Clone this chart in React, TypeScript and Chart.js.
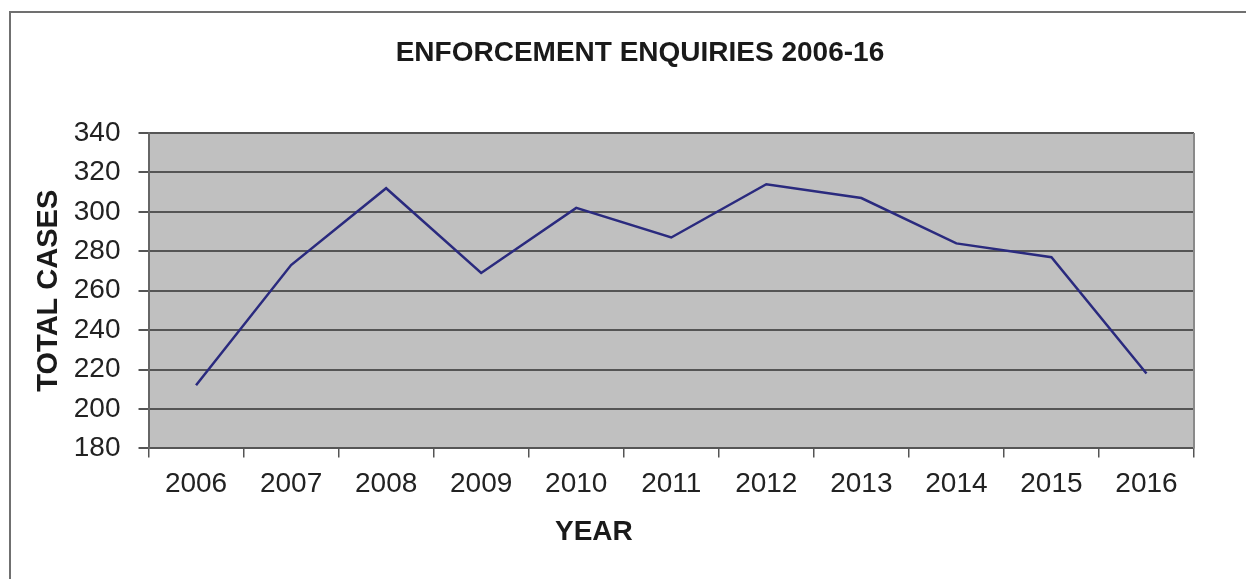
import React, { useEffect, useRef } from "react";
import { Chart, registerables } from "chart.js";

Chart.register(...registerables);

const years: string[] = ["2006", "2007", "2008", "2009", "2010", "2011", "2012", "2013", "2014", "2015", "2016"];
const totalCases: number[] = [212, 273, 312, 269, 302, 287, 314, 307, 284, 277, 218];
const chartTitle = "ENFORCEMENT ENQUIRIES 2006-16";
const xTitle = "YEAR";
const yTitle = "TOTAL CASES";
const yMin = 180;
const yMax = 340;
const yStep = 20;

const FONT = "'Liberation Sans', Arial, Helvetica, sans-serif";

const plotDecor = {
  id: "plotDecor",
  beforeDraw(chart: any) {
    const { ctx, chartArea } = chart;
    if (!chartArea) return;
    ctx.save();
    ctx.fillStyle = "#c0c0c0";
    ctx.fillRect(chartArea.left, chartArea.top, chartArea.right - chartArea.left, chartArea.bottom - chartArea.top);
    ctx.restore();
  },
  afterDatasetsDraw(chart: any) {
    const { ctx, chartArea } = chart;
    if (!chartArea) return;
    ctx.save();
    ctx.strokeStyle = "#8a8a8a";
    ctx.lineWidth = 2;
    ctx.beginPath();
    ctx.moveTo(chartArea.right, chartArea.top);
    ctx.lineTo(chartArea.right, chartArea.bottom);
    ctx.stroke();
    ctx.restore();
  },
  afterDraw(chart: any) {
    const { ctx, chartArea, width } = chart;
    if (!chartArea) return;
    ctx.save();
    ctx.font = `bold 28px ${FONT}`;
    ctx.fillStyle = "#1a1a1a";
    ctx.textAlign = "center";
    ctx.textBaseline = "middle";
    // main title
    ctx.fillText(chartTitle, width * 0.5136, 53);
    // x axis title
    const x = chartArea.left + 0.426 * (chartArea.right - chartArea.left);
    ctx.fillText(xTitle, x, 532);
    ctx.restore();
  },
};

export default function App() {
  const canvasRef = useRef<HTMLCanvasElement | null>(null);

  useEffect(() => {
    const canvas = canvasRef.current;
    if (!canvas) return;
    const chart = new Chart(canvas, {
      type: "line",
      data: {
        labels: years,
        datasets: [
          {
            label: yTitle,
            data: totalCases,
            borderColor: "#2a2a7e",
            borderWidth: 2.5,
            pointRadius: 0,
            tension: 0,
            fill: false,
          },
        ],
      },
      options: {
        responsive: false,
        animation: false,
        devicePixelRatio: 1,
        layout: { padding: { left: 0, right: 52, top: 133, bottom: 68 } },
        plugins: {
          legend: { display: false },
          tooltip: { enabled: false },
          title: { display: false },
        },
        scales: {
          x: {
            offset: true,
            grid: {
              display: true,
              drawOnChartArea: false,
              drawTicks: true,
              offset: true,
              tickLength: 9,
              color: "#555555",
              lineWidth: 1.5,
            },
            border: { display: true, color: "#555555", width: 2 },
            ticks: {
              color: "#222222",
              font: { family: FONT, size: 28 },
              padding: 10,
              maxRotation: 0,
              autoSkip: false,
            },
          },
          y: {
            min: yMin,
            max: yMax,
            grid: {
              display: true,
              drawOnChartArea: true,
              drawTicks: true,
              tickLength: 10,
              color: "#555555",
              lineWidth: 2,
            },
            border: { display: true, color: "#666666", width: 2 },
            ticks: {
              stepSize: yStep,
              color: "#222222",
              font: { family: FONT, size: 28 },
              padding: 18,
            },
            title: {
              display: true,
              text: yTitle,
              color: "#1a1a1a",
              font: { family: FONT, size: 29, weight: "bold" },
              padding: { top: 32, bottom: -11 },
            },
          },
        },
      },
      plugins: [plotDecor],
    });
    return () => chart.destroy();
  }, []);

  return (
    <div
      style={{
        position: "fixed",
        left: 0,
        top: 0,
        width: "1246px",
        height: "579px",
        overflow: "hidden",
        background: "#ffffff",
      }}
    >
      <div
        style={{
          position: "absolute",
          left: "9px",
          top: "11px",
          right: "-10px",
          bottom: "-10px",
          borderLeft: "2px solid #707070",
          borderTop: "2px solid #707070",
        }}
      />
      <canvas
        ref={canvasRef}
        width={1246}
        height={579}
        style={{ position: "absolute", left: 0, top: 0, width: "1246px", height: "579px" }}
      />
    </div>
  );
}
